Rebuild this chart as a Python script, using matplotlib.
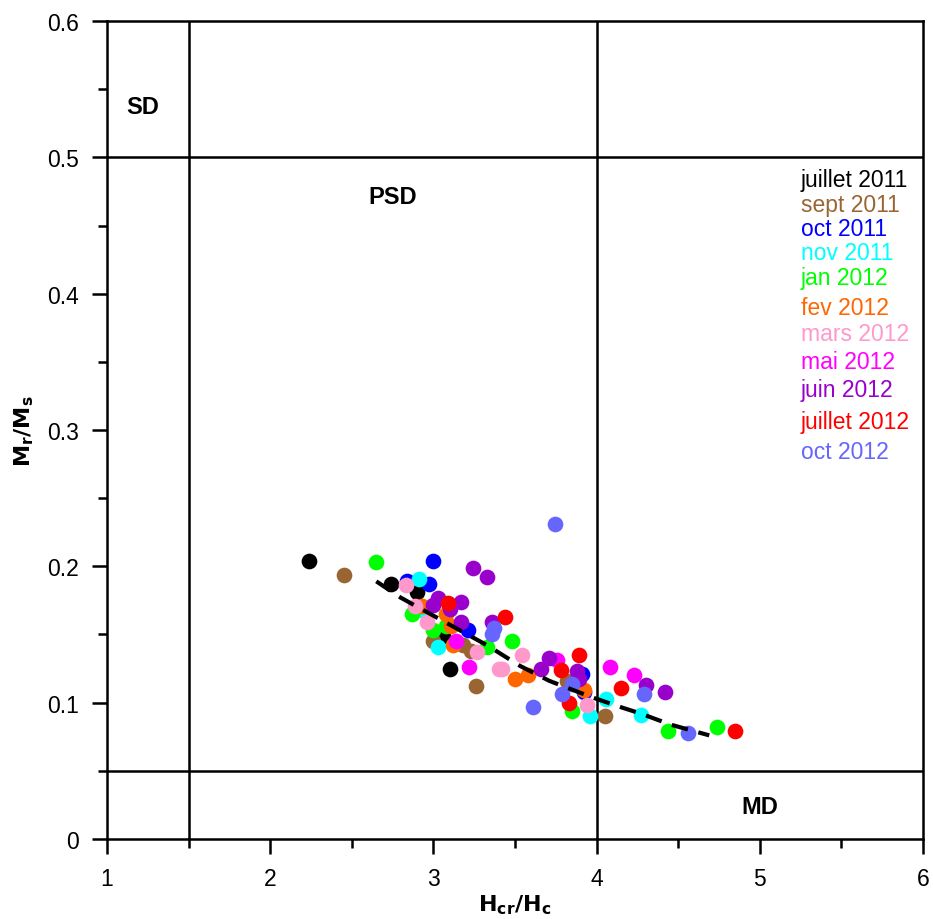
import matplotlib
matplotlib.use("Agg")
import matplotlib.pyplot as plt
from matplotlib.ticker import MultipleLocator

plt.rcParams["font.family"] = ["Liberation Sans", "DejaVu Sans"]

# data: Hcr/Hc and Mr/Ms per campaign
months = ["juillet 2011", "sept 2011", "oct 2011", "nov 2011", "jan 2012",
          "fev 2012", "mars 2012", "mai 2012", "juin 2012", "juillet 2012",
          "oct 2012"]
colors = ["#000000", "#996633", "#0000ff", "#00ffff", "#00ff00",
          "#ff6600", "#ff99cc", "#ff00ff", "#9900cc", "#ff0000", "#6666ff"]

jul11_x = [2.24, 2.74, 2.90, 3.06, 3.10]
jul11_y = [0.204, 0.187, 0.181, 0.149, 0.125]
sep11_x = [2.45, 3.00, 3.18, 3.23, 3.26, 3.82, 4.05]
sep11_y = [0.194, 0.145, 0.142, 0.138, 0.112, 0.116, 0.090]
oct11_x = [3.00, 2.97, 2.84, 3.21, 3.91, 3.92]
oct11_y = [0.204, 0.187, 0.189, 0.153, 0.121, 0.108]
nov11_x = [2.91, 2.94, 3.03, 4.06, 3.96, 4.27]
nov11_y = [0.191, 0.167, 0.141, 0.103, 0.090, 0.091]
jan12_x = [2.65, 2.87, 3.00, 3.08, 3.33, 3.48, 3.85, 4.44, 4.74]
jan12_y = [0.203, 0.165, 0.153, 0.156, 0.141, 0.145, 0.094, 0.079, 0.082]
fev12_x = [2.93, 3.08, 3.11, 3.12, 3.50, 3.58, 3.92]
fev12_y = [0.171, 0.165, 0.156, 0.142, 0.117, 0.120, 0.109]
mar12_x = [2.83, 2.89, 2.96, 3.27, 3.40, 3.42, 3.54, 3.94]
mar12_y = [0.186, 0.171, 0.159, 0.137, 0.125, 0.125, 0.135, 0.098]
mai12_x = [3.14, 3.22, 3.76, 4.08, 4.23]
mai12_y = [0.145, 0.126, 0.131, 0.126, 0.120]
jun12_x = [3.24, 3.33, 3.03, 3.00, 3.17, 3.10, 3.17, 3.36, 3.71, 3.66,
           3.88, 3.89, 4.30, 4.42]
jun12_y = [0.199, 0.192, 0.177, 0.172, 0.174, 0.169, 0.159, 0.159, 0.133,
           0.125, 0.123, 0.117, 0.113, 0.108]
jul12_x = [3.09, 3.44, 3.89, 3.78, 3.83, 4.15, 4.85]
jul12_y = [0.173, 0.163, 0.135, 0.124, 0.100, 0.111, 0.079]
oct12_x = [3.745, 3.37, 3.36, 3.61, 3.85, 3.79, 4.29, 4.56]
oct12_y = [0.231, 0.155, 0.150, 0.097, 0.114, 0.106, 0.106, 0.078]

series_x = [jul11_x, sep11_x, oct11_x, nov11_x, jan12_x, fev12_x, mar12_x,
            mai12_x, jun12_x, jul12_x, oct12_x]
series_y = [jul11_y, sep11_y, oct11_y, nov11_y, jan12_y, fev12_y, mar12_y,
            mai12_y, jun12_y, jul12_y, oct12_y]

# dashed trend line, read along its path
trend_x = [2.65, 2.80, 3.33, 3.53, 3.71, 3.97, 4.14, 4.27, 4.45, 4.69]
trend_y = [0.189, 0.177, 0.142, 0.127, 0.116, 0.104, 0.097, 0.092, 0.084, 0.076]

# domain boundaries (Day plot)
bound_hcr = [1.5, 4.0]
bound_mr = [0.5, 0.05]
domains = ["SD", "PSD", "MD"]
domain_x = [1.22, 2.75, 5.0]
domain_y = [0.537, 0.471, 0.024]

fig = plt.figure(figsize=(9.33, 9.2), dpi=100)
ax = fig.add_axes([0.1147, 0.087, 0.8746, 0.889])

for xv in bound_hcr:
    ax.axvline(xv, color="black", lw=1.8, zorder=1)
for yv in bound_mr:
    ax.axhline(yv, color="black", lw=1.8, zorder=1)

for xs, ys, c in zip(series_x, series_y, colors):
    ax.plot(xs, ys, "o", color=c, markersize=11.3, markeredgewidth=0, zorder=3)

ax.plot(trend_x, trend_y, color="black", lw=3, dashes=(4, 2.6), zorder=4)

for name, tx, ty in zip(domains, domain_x, domain_y):
    ax.text(tx, ty, name, fontsize=17, fontweight="bold", ha="center",
            va="center")

# legend as coloured text
leg_y = [0.806, 0.776, 0.747, 0.717, 0.687, 0.650, 0.618, 0.584, 0.550,
         0.511, 0.474]
for name, c, ly in zip(months, colors, leg_y):
    ax.text(0.8505, ly, name, color=c, fontsize=16.5, transform=ax.transAxes,
            ha="left", va="center")

ax.set_xlim(1, 6)
ax.set_ylim(0, 0.6)
ax.xaxis.set_major_locator(MultipleLocator(1))
ax.xaxis.set_minor_locator(MultipleLocator(0.5))
ax.yaxis.set_major_locator(MultipleLocator(0.1))
ax.yaxis.set_minor_locator(MultipleLocator(0.05))
ax.yaxis.set_major_formatter(plt.FuncFormatter(
    lambda v, p: "0" if abs(v) < 1e-9 else f"{v:.1f}"))
ax.tick_params(which="major", direction="out", length=11, width=1.8,
               labelsize=16.5, pad=9)
ax.tick_params(which="minor", direction="out", length=6.5, width=1.8)
for sp in ax.spines.values():
    sp.set_linewidth(1.8)

ax.set_xlabel(r"$\mathbf{H_{cr}/H_c}$", fontsize=16, labelpad=2)
ax.set_ylabel(r"$\mathbf{M_r/M_s}$", fontsize=16, labelpad=8)

fig.savefig("out.png", dpi=100)
